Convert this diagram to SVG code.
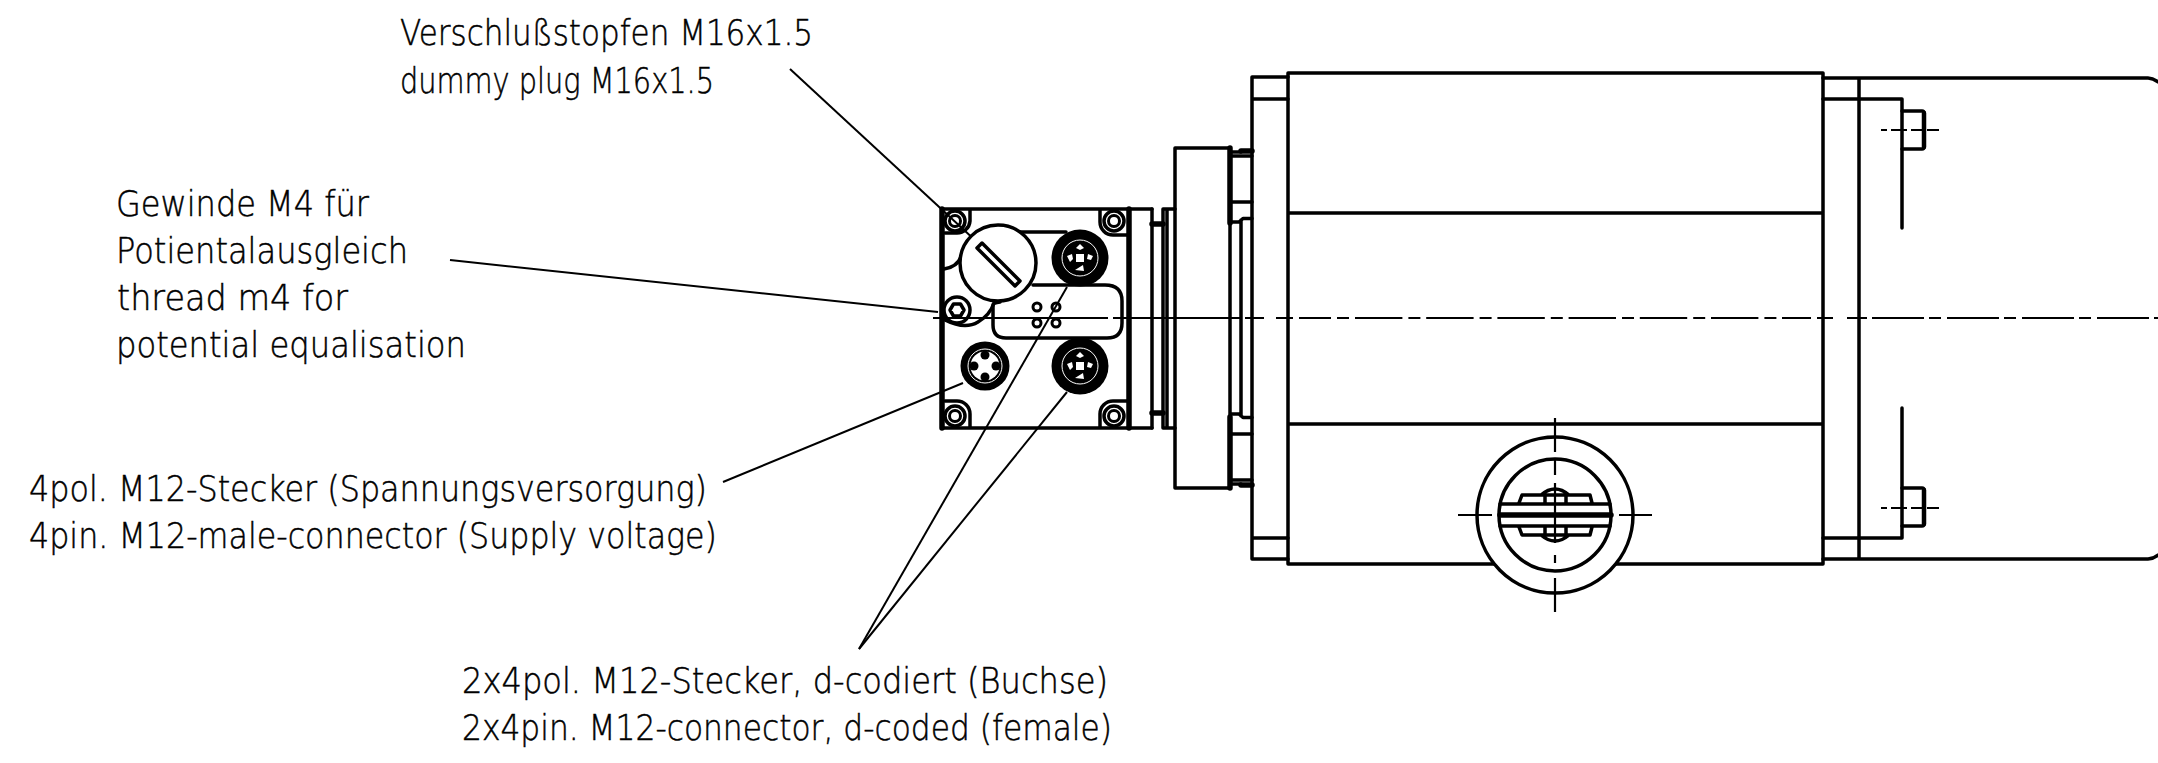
<svg xmlns="http://www.w3.org/2000/svg" width="2158" height="763" viewBox="0 0 2158 763">
<style>
text{font-family:"DejaVu Sans","Liberation Sans",sans-serif;font-weight:200;font-size:36px;fill:#000;stroke:#000;stroke-width:.5}
.l{fill:none;stroke:#000;stroke-width:3.5;stroke-linecap:round;stroke-linejoin:round}
.t{fill:none;stroke:#000;stroke-width:5.5;stroke-linecap:round;stroke-linejoin:round}
.n{fill:none;stroke:#000;stroke-width:2;stroke-linecap:butt}
.m{fill:none;stroke:#000;stroke-width:2.2;stroke-linecap:butt}
</style>
<defs>
<g id="fem">
<circle r="28.5" fill="#000"/>
<circle r="18" fill="none" stroke="#fff" stroke-width="1"/>
<path d="M0,-14 L4,-10 L0,-8 L-4,-10Z M-13,-2 L-8,-4 L-7,1 L-10,4Z M13,-2 L8,-4 L7,1 L11,2Z M-5,12 L3,7 L4,13Z M-4,-4 H4 V4 H-4Z" fill="#fff"/>
</g>
<g id="screw">
<circle r="10" fill="none" stroke="#000" stroke-width="3.5"/>
<circle r="5.5" fill="none" stroke="#000" stroke-width="3"/>
</g>
</defs>
<g id="connectors">
<path class="n" d="M790,69 L977,242"/>
<path class="n" d="M450,260 L938,312"/>
<path class="n" d="M723,482 L963,383"/>
<path class="n" d="M859,649 L1067,287"/>
<path class="n" d="M859,649 L1067,392"/>
</g>
<g id="module">
<path class="l" d="M942,209 H1152 M942,428 H1152"/>
<path class="t" d="M942,209 V428 M1129,209 V428"/>
<path class="l" d="M1152,209 V428"/>
<path class="t" d="M1152,224 H1163 M1152,413 H1163"/>
<path class="l" d="M1163,209 V428 M1163,209 H1175 M1163,428 H1175 M1167,209 V428"/>
<path class="l" d="M970,210 V221 A13,13 0 0 1 957,233 H945 M1100,210 V222 A13,13 0 0 0 1113,235 H1128 M945,401 H957 A13,13 0 0 1 970,414 V427 M1128,401 H1113 A13,13 0 0 0 1100,414 V427"/>
<use href="#screw" x="955" y="221"/><use href="#screw" x="1114" y="221"/><use href="#screw" x="955" y="416"/><use href="#screw" x="1114" y="416"/>
<path class="l" d="M944,269 Q957,267 961,257"/>
<path class="l" d="M945,320 Q965,330 978,322 Q990,315 994,303"/>
<path class="l" d="M1020,232 H1066"/>
<path class="l" d="M1033,285 H1105 Q1122,285 1122,301 V323 Q1122,338 1107,338 H1006 Q993,338 993,325 V305 Q993,303 1000,302"/>
<circle class="l" cx="957" cy="310" r="13"/>
<polygon class="l" points="964,310 960.5,316 953.500,316 950,310 953.500,304 960.500,304"/>
<circle cx="998" cy="263" r="38" fill="#fff" stroke="#000" stroke-width="3.500"/>
<path class="l" fill="#fff" d="M977,248 L982,243 L1020,281 L1015,286Z"/>
<g fill="none" stroke="#000" stroke-width="3"><circle cx="1037" cy="307" r="4"/><circle cx="1056" cy="307" r="4"/><circle cx="1037" cy="323" r="4"/><circle cx="1056" cy="323" r="4"/></g>
<use href="#fem" x="1080" y="258"/><use href="#fem" x="1080" y="366"/>
<g id="male">
<circle cx="985" cy="366" r="24.500" fill="#000"/>
<circle cx="985" cy="366" r="17" fill="none" stroke="#fff" stroke-width="1"/>
<circle cx="985" cy="366" r="14.500" fill="#fff"/>
<g fill="#000"><circle cx="985" cy="355" r="4.500"/><circle cx="985" cy="377" r="4.500"/><circle cx="974" cy="366" r="4.500"/><circle cx="996" cy="366" r="4.500"/></g>
</g>
</g>
<g id="flange">
<path class="l" d="M1175,148 H1230 V488 H1175Z"/>
<path class="t" d="M1230,148 V223 M1230,417 V488"/>
<path class="l" d="M1231,152 H1241 M1231,484 H1241 M1232,156 H1252 M1232,480 H1252 M1232,202 H1252 M1232,434 H1252"/>
<path class="t" d="M1241,151 H1252 M1241,485 H1252"/>
<path class="l" d="M1231,222 H1239 L1243,218.500 H1252 M1231,414 H1239 L1243,417.500 H1252 M1241,220 V416"/>
</g>
<g id="motor">
<path class="l" d="M1288,77 H1252 V559 H1288 M1252,99 H1288 M1252,538 H1288"/>
<path class="l" d="M1288,73 V564 M1288,73 H1823 V564 H1288 M1288,213 H1823 M1288,424 H1823"/>
<path class="l" d="M1823,78 H2148 Q2153,78 2158,82 M1823,559 H2148 Q2153,559 2158,555 M1859,78 V559 M1823,99 H1902 V228 M1823,538 H1902 V408"/>
<path class="l" d="M1902,111 H1922 Q1924,111 1924,113 V147 Q1924,149 1922,149 H1902 M1902,488 H1922 Q1924,488 1924,490 V524 Q1924,526 1922,526 H1902"/>
<path class="t" style="stroke-width:4.500" d="M1924,113 V147 M1924,490 V524"/>
</g>
<g id="knob">
<circle cx="1555" cy="515" r="78" fill="#fff" stroke="#000" stroke-width="3.500"/>
<circle cx="1555" cy="515" r="56" fill="none" stroke="#000" stroke-width="3.500"/>
<path class="l" d="M1500,504 H1610 M1500,526 H1610"/>
<path class="t" d="M1500,515 H1611"/>
<path class="l" d="M1519,503 L1522,495 H1541 Q1555,483 1569,495 H1590 L1592,503 M1519,527 L1522,535 H1541 Q1555,547 1569,535 H1590 L1592,527 M1545,495 V503 M1566,495 V503 M1545,527 V535 M1566,527 V535 M1541,495 H1569 M1541,535 H1569"/>
</g>
<g id="centerlines">
<path class="m" d="M933,318 H1108 M1113,318 H1240 M1245,318 H1264 M1276,318 H1293 M1299,318 H1331 M1337,318 H1349 M1782,318 H1811 M1817,318 H1833 M1847,318 H1867"/>
<path class="m" stroke-dasharray="47.400 6 12 5.800" d="M1355,318 H1782"/>
<path class="m" stroke-dasharray="52 5 12 6" d="M1872,318 H2158"/>
<path class="m" d="M1555,418 V452 M1555,458 V475 M1555,483 V543 M1555,555 V563 M1555,578 V612 M1458,515 H1492 M1619,515 H1652"/>
<path class="m" stroke-dasharray="6 4 16 4 12 4 12" d="M1881,130 H1944"/>
<path class="m" stroke-dasharray="6 4 16 4 12 4 12" d="M1881,508 H1944"/>
</g>
<g id="labels">
<text x="400" y="45" textLength="413" lengthAdjust="spacingAndGlyphs">Verschlußstopfen M16x1.5</text>
<text x="400" y="93" textLength="314" lengthAdjust="spacingAndGlyphs">dummy plug M16x1.5</text>
<text x="116" y="216" textLength="253" lengthAdjust="spacingAndGlyphs">Gewinde M4 für</text>
<text x="116" y="263" textLength="292" lengthAdjust="spacingAndGlyphs">Potientalausgleich</text>
<text x="117" y="310" textLength="231" lengthAdjust="spacingAndGlyphs">thread m4 for</text>
<text x="116" y="357" textLength="350" lengthAdjust="spacingAndGlyphs">potential equalisation</text>
<text x="29" y="501" textLength="678" lengthAdjust="spacingAndGlyphs">4pol. M12-Stecker (Spannungsversorgung)</text>
<text x="29" y="548" textLength="688" lengthAdjust="spacingAndGlyphs">4pin. M12-male-connector (Supply voltage)</text>
<text x="462" y="693" textLength="646" lengthAdjust="spacingAndGlyphs">2x4pol. M12-Stecker, d-codiert (Buchse)</text>
<text x="462" y="740" textLength="650" lengthAdjust="spacingAndGlyphs">2x4pin. M12-connector, d-coded (female)</text>
</g>
</svg>
